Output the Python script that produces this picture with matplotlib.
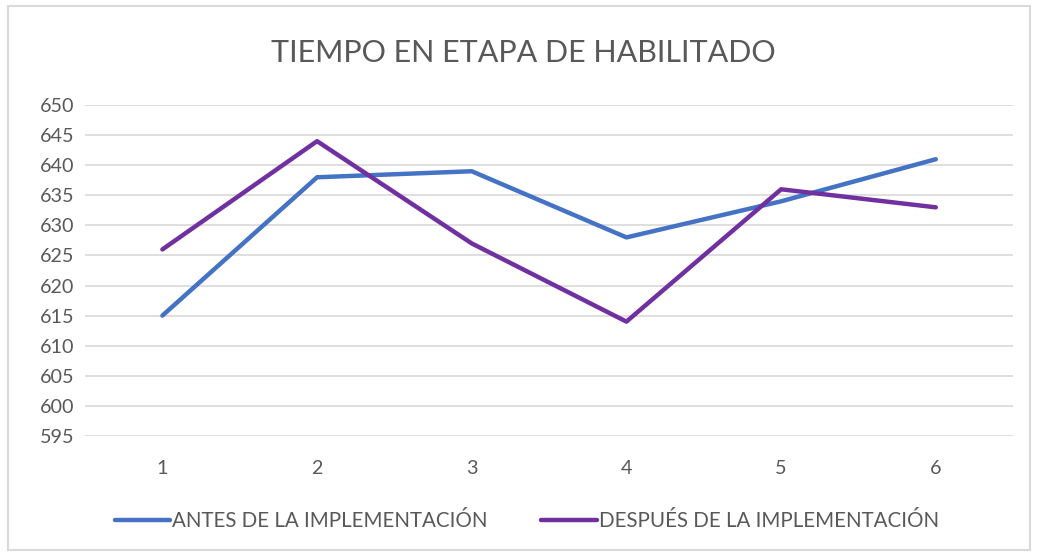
import matplotlib.pyplot as plt
from matplotlib.patches import Rectangle

plt.rcParams['font.family'] = ['Lato', 'DejaVu Sans']

categories = ['1', '2', '3', '4', '5', '6']
antes = [615, 638, 639, 628, 634, 641]
despues = [626, 644, 627, 614, 636, 633]
y_ticks = list(range(595, 651, 5))

TEXT = '#595959'
GRID = '#d9d9d9'

fig = plt.figure(figsize=(10.37, 5.56), dpi=100)
fig.patches.append(Rectangle((0.008, 0.01), 0.985, 0.98, transform=fig.transFigure,
                             fill=False, edgecolor=GRID, linewidth=1.5))
ax = fig.add_axes([0.082, 0.216, 0.895, 0.595])

x = range(len(categories))
ax.plot(x, antes, color='#4472C4', linewidth=3.2, solid_capstyle='round',
        label='ANTES DE LA IMPLEMENTACIÓN')
ax.plot(x, despues, color='#7030A0', linewidth=3.2, solid_capstyle='round',
        label='DESPUÉS DE LA IMPLEMENTACIÓN')

ax.set_xlim(-0.5, len(categories) - 0.5)
ax.set_ylim(595, 650)
ax.set_yticks(y_ticks)
ax.set_xticks(list(x))
ax.set_xticklabels(categories)
ax.grid(axis='y', color=GRID, linewidth=1.2)
ax.set_axisbelow(True)
for s in ax.spines.values():
    s.set_visible(False)
ax.tick_params(length=0, labelsize=14.2, labelcolor=TEXT)
ax.tick_params(axis='x', pad=17)
ax.tick_params(axis='y', pad=8)

fig.text(0.505, 0.905, 'TIEMPO EN ETAPA DE HABILITADO', ha='center', va='center',
         fontsize=22, color=TEXT)

fig.legend(loc='center', bbox_to_anchor=(0.508, 0.063), ncol=2, frameon=False,
           fontsize=14.8, labelcolor=TEXT, handlelength=2.7, handletextpad=0.1,
           columnspacing=2.6)

fig.savefig('out.png', dpi=100)
